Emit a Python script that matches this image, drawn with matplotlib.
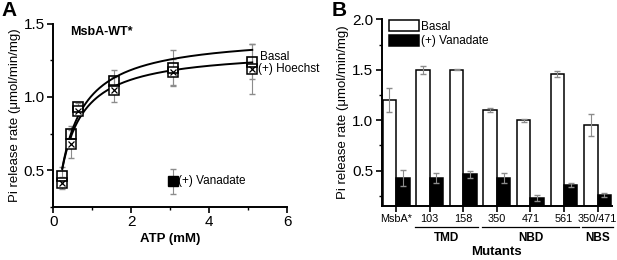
import numpy as np
import matplotlib.pyplot as plt
from matplotlib.ticker import MultipleLocator

plt.rcParams['font.family'] = ['Liberation Sans', 'DejaVu Sans']

# panel A data
atp = [0.23, 0.45, 0.64, 1.56, 3.06, 5.1]
basal_a = [0.464, 0.744, 0.93, 1.107, 1.196, 1.24]
basal_a_err = [0.06, 0.06, 0.03, 0.075, 0.125, 0.12]
hoechst_a = [0.414, 0.68, 0.905, 1.05, 1.17, 1.19]
hoechst_a_err = [0.04, 0.095, 0.03, 0.085, 0.09, 0.17]
van_x = [3.06]
van_y = [0.425]
van_err = [0.085]
# Michaelis-Menten fit parameters (Vmax, Km)
fit_basal = (1.426, 0.408)
fit_hoechst = (1.324, 0.369)

# panel B data
mutants = ['MsbA*', '103', '158', '350', '471', '561', '350/471']
basal_b = [1.20, 1.50, 1.50, 1.10, 1.00, 1.46, 0.95]
basal_b_err = [0.12, 0.04, 0.005, 0.02, 0.015, 0.03, 0.11]
van_b = [0.425, 0.425, 0.465, 0.425, 0.23, 0.355, 0.26]
van_b_err = [0.08, 0.05, 0.035, 0.05, 0.03, 0.02, 0.02]
groups = [('TMD', 1, 2), ('NBD', 3, 5), ('NBS', 6, 6)]

fig = plt.figure(figsize=(6.17, 2.6), dpi=100)

errc = '#8c8c8c'


def style(ax):
    for s in ['top', 'right']:
        ax.spines[s].set_visible(False)
    for s in ['left', 'bottom']:
        ax.spines[s].set_linewidth(1.4)
    ax.tick_params(direction='out', width=1.2, length=4, labelsize=11, pad=2)
    ax.tick_params(which='minor', direction='out', width=1.0, length=2.5)


# ---- A ----
ax = fig.add_axes([0.0864, 0.204, 0.3793, 0.7056])
style(ax)
xs = np.linspace(atp[0], atp[-1], 200)
for vmax, km in [fit_basal, fit_hoechst]:
    ax.plot(xs, vmax * xs / (km + xs), color='black', lw=1.4, zorder=2)
ax.errorbar(atp, basal_a, yerr=basal_a_err, fmt='none', ecolor=errc, elinewidth=0.8, capsize=2, zorder=1)
ax.errorbar(atp, hoechst_a, yerr=hoechst_a_err, fmt='none', ecolor=errc, elinewidth=0.8, capsize=2, zorder=1)
ax.plot(atp, hoechst_a, 's', ms=7, mfc='white', mec='black', mew=1.1, zorder=3)
ax.plot(atp, hoechst_a, 'x', ms=5, mec='black', mew=0.9, zorder=4)
ax.plot(atp, basal_a, 's', ms=7.5, mfc='none', mec='black', mew=1.2, zorder=5)
ax.errorbar(van_x, van_y, yerr=van_err, fmt='none', ecolor=errc, elinewidth=0.8, capsize=2, zorder=1)
ax.plot(van_x, van_y, 's', ms=7, color='black', zorder=3)
ax.set_xlim(0, 6)
ax.set_ylim(0.25, 1.5)
ax.set_xticks([0, 2, 4, 6])
ax.set_yticks([0.5, 1.0, 1.5])
ax.xaxis.set_minor_locator(MultipleLocator(1))
ax.yaxis.set_minor_locator(MultipleLocator(0.25))
ax.set_xlabel('ATP (mM)', fontsize=9.5, fontweight='bold', labelpad=3)
ax.set_ylabel('Pi release rate (μmol/min/mg)', fontsize=9.5, labelpad=2)
ax.text(0.072, 0.985, 'MsbA-WT*', transform=ax.transAxes, fontsize=9, fontweight='bold', va='top')
ax.text(5.3, 1.27, 'Basal', fontsize=8.5, va='center')
ax.text(5.26, 1.19, '(+) Hoechst', fontsize=8.5, va='center', clip_on=False)
ax.text(3.2, 0.425, '(+) Vanadate', fontsize=8.5, va='center')
fig.text(0.003, 0.995, 'A', fontsize=15, fontweight='bold', va='top')

# ---- B ----
bx = fig.add_axes([0.6186, 0.2077, 0.3728, 0.7181])
style(bx)
x = np.arange(len(mutants))
w = 0.4
bx.bar(x - w / 2, basal_b, w, color='white', edgecolor='black', lw=1.1,
       label='Basal', zorder=2)
bx.bar(x + w / 2, van_b, w, color='black', edgecolor='black', lw=1.1,
       label='(+) Vanadate', zorder=2)
bx.errorbar(x - w / 2, basal_b, yerr=basal_b_err, fmt='none', ecolor=errc, elinewidth=0.8, capsize=2, zorder=3)
bx.errorbar(x + w / 2, van_b, yerr=van_b_err, fmt='none', ecolor=errc, elinewidth=0.8, capsize=2, zorder=3)
bx.set_xlim(-0.43, 6.42)
bx.set_ylim(0.15, 2.0)
bx.set_yticks([0.5, 1.0, 1.5, 2.0])
bx.yaxis.set_minor_locator(MultipleLocator(0.25))
bx.set_xticks(x)
bx.set_xticklabels(mutants, fontsize=7.8)
bx.set_ylabel('Pi release rate (μmol/min/mg)', fontsize=9.5, labelpad=2)
bx.legend(loc='upper left', bbox_to_anchor=(0.01, 1.02), frameon=False, fontsize=8.5,
          handlelength=2.6, handleheight=1.0, handletextpad=0.15, borderaxespad=0,
          labelspacing=0.2)
for name, i0, i1 in groups:
    x0 = i0 - 0.45
    x1 = i1 + 0.45
    bx.plot([x0, x1], [-0.11, -0.11], color='black', lw=0.9, transform=bx.get_xaxis_transform(),
            clip_on=False)
    bx.text((x0 + x1) / 2, -0.172, name, transform=bx.get_xaxis_transform(), ha='center',
            va='center', fontsize=8.5, fontweight='bold')
bx.text(0.5, -0.248, 'Mutants', transform=bx.transAxes, ha='center', va='center',
        fontsize=9.5, fontweight='bold')
fig.text(0.537, 0.995, 'B', fontsize=15, fontweight='bold', va='top')

fig.savefig('out.png', dpi=100)
